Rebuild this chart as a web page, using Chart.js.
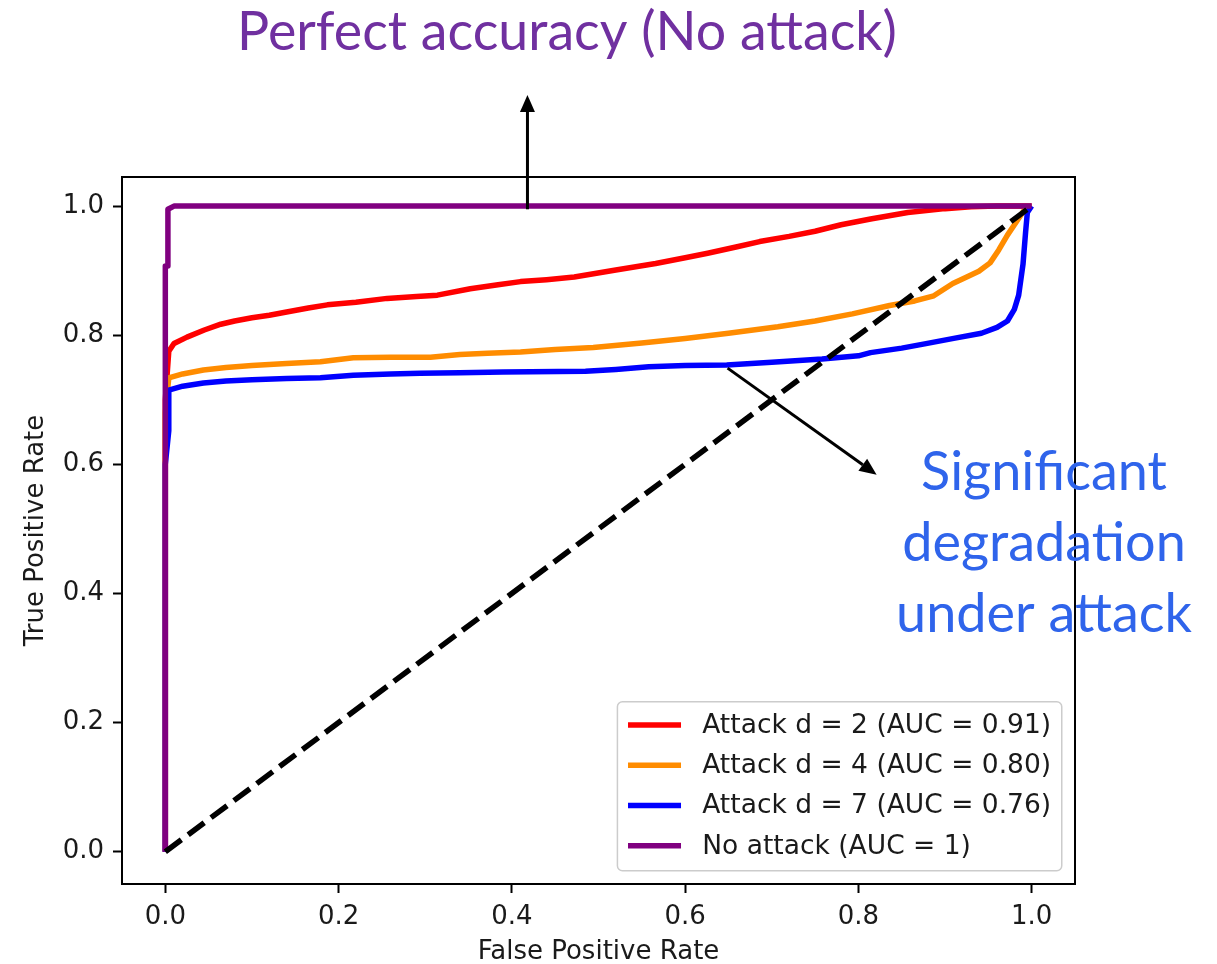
<!DOCTYPE html>
<html>
<head>
<meta charset="utf-8">
<script src="https://cdn.jsdelivr.net/npm/chart.js@4.4.1/dist/chart.umd.min.js"></script>
<style>
  html, body { margin: 0; padding: 0; background: #fff; }
  canvas { display: block; }
</style>
</head>
<body>
<canvas id="roc" width="1217" height="964"></canvas>
<script>
// ROC curves of the detector for several attack strengths

const X_TICKS = [0, 0.2, 0.4, 0.6, 0.8, 1.0];
const X_TICK_LABELS = ['0.0', '0.2', '0.4', '0.6', '0.8', '1.0'];
const Y_TICKS = [0, 0.2, 0.4, 0.6, 0.8, 1.0];
const Y_TICK_LABELS = ['0.0', '0.2', '0.4', '0.6', '0.8', '1.0'];

const SERIES_LABELS = [
  'Attack d = 2 (AUC = 0.91)',
  'Attack d = 4 (AUC = 0.80)',
  'Attack d = 7 (AUC = 0.76)',
  'No attack (AUC = 1)'
];

// Attack d = 2
const fprD2 = [0, 0, 0.004, 0.01, 0.025, 0.045, 0.064, 0.08, 0.10, 0.12, 0.14, 0.165, 0.187, 0.22, 0.256, 0.29, 0.314, 0.352, 0.384, 0.41, 0.44, 0.472, 0.52, 0.566, 0.60, 0.626, 0.66, 0.686, 0.72, 0.75, 0.78, 0.814, 0.857, 0.90, 0.93, 0.96, 1.0];
const tprD2 = [0, 0.70, 0.775, 0.787, 0.797, 0.808, 0.817, 0.822, 0.827, 0.831, 0.836, 0.842, 0.847, 0.851, 0.857, 0.860, 0.862, 0.872, 0.878, 0.883, 0.886, 0.890, 0.901, 0.911, 0.920, 0.927, 0.937, 0.945, 0.953, 0.961, 0.971, 0.980, 0.990, 0.996, 0.999, 1.0, 1.0];

// Attack d = 4
const fprD4 = [0, 0, 0.004, 0.02, 0.044, 0.07, 0.10, 0.14, 0.179, 0.217, 0.26, 0.306, 0.34, 0.372, 0.41, 0.45, 0.494, 0.55, 0.60, 0.65, 0.707, 0.75, 0.793, 0.836, 0.865, 0.887, 0.909, 0.925, 0.939, 0.952, 0.962, 0.972, 0.982, 0.992, 1.0];
const tprD4 = [0, 0.68, 0.734, 0.740, 0.746, 0.750, 0.753, 0.756, 0.759, 0.765, 0.766, 0.766, 0.770, 0.772, 0.774, 0.778, 0.781, 0.788, 0.795, 0.803, 0.813, 0.822, 0.833, 0.846, 0.853, 0.861, 0.880, 0.890, 0.899, 0.912, 0.932, 0.955, 0.975, 0.995, 1.0];

// Attack d = 7
const fprD7 = [0, 0, 0.004, 0.004, 0.02, 0.044, 0.07, 0.10, 0.14, 0.179, 0.217, 0.26, 0.294, 0.34, 0.39, 0.485, 0.52, 0.558, 0.60, 0.648, 0.70, 0.758, 0.80, 0.814, 0.85, 0.878, 0.91, 0.942, 0.96, 0.972, 0.98, 0.985, 0.99, 0.993, 0.995, 1.0];
const tprD7 = [0, 0.60, 0.652, 0.715, 0.721, 0.726, 0.729, 0.731, 0.733, 0.734, 0.738, 0.740, 0.741, 0.742, 0.743, 0.744, 0.747, 0.751, 0.753, 0.754, 0.758, 0.763, 0.768, 0.773, 0.780, 0.787, 0.795, 0.803, 0.812, 0.822, 0.840, 0.862, 0.910, 0.960, 0.990, 1.0];

// No attack
const fprClean = [0, 0, 0.003, 0.003, 0.01, 1.0];
const tprClean = [0, 0.907, 0.907, 0.995, 1.0, 1.0];

// Chance line
const fprChance = [0, 1];
const tprChance = [0, 1];

const TITLE_TEXT = 'Perfect accuracy (No attack)';
const NOTE_LINES = ['Significant', 'degradation', 'under attack'];

const toPoints = (xs, ys) => xs.map((x, i) => ({ x: x, y: ys[i] }));

const TICK_FONT = { family: 'DejaVu Sans', size: 26 };
const TEXT_COLOR = '#1a1a1a';
const LINE_W = 5.5;

// Outline around the plotting area
const framePlugin = {
  id: 'frame',
  afterDatasetsDraw(chart) {
    const { ctx, chartArea: a } = chart;
    ctx.save();
    ctx.strokeStyle = '#000';
    ctx.lineWidth = 2;
    ctx.strokeRect(a.left, a.top, a.right - a.left, a.bottom - a.top);
    ctx.restore();
  }
};

// Legend box in the lower-right corner of the plotting area
const legendBoxPlugin = {
  id: 'legendBox',
  afterDraw(chart) {
    const { ctx, chartArea: a } = chart;
    const fs = 26.5;
    const pad = 0.4 * fs, handle = 2.0 * fs, gap = 0.8 * fs, spacing = 0.5 * fs, rowH = 27;
    const axPad = 0.5 * fs;
    ctx.save();
    ctx.font = fs + 'px "DejaVu Sans"';
    const items = [0, 1, 2, 3].map(i => chart.data.datasets[i]);
    const textW = Math.max(...items.map(d => ctx.measureText(d.label).width));
    const w = pad + handle + gap + textW + pad;
    const h = 2 * pad + items.length * rowH + (items.length - 1) * spacing;
    const x0 = a.right - axPad - w;
    const y0 = a.bottom - axPad - h;
    ctx.beginPath();
    ctx.roundRect(x0, y0, w, h, 5);
    ctx.fillStyle = 'rgba(255,255,255,0.8)';
    ctx.fill();
    ctx.strokeStyle = '#cccccc';
    ctx.lineWidth = 1.5;
    ctx.stroke();
    items.forEach((d, i) => {
      const cy = y0 + pad + rowH / 2 + i * (rowH + spacing) - 1;
      ctx.beginPath();
      ctx.moveTo(x0 + pad, cy);
      ctx.lineTo(x0 + pad + handle, cy);
      ctx.strokeStyle = d.borderColor;
      ctx.lineWidth = LINE_W;
      ctx.stroke();
      ctx.fillStyle = TEXT_COLOR;
      ctx.textAlign = 'left';
      ctx.textBaseline = 'middle';
      ctx.fillText(d.label, x0 + pad + handle + gap, cy + 1);
    });
    ctx.restore();
  }
};

// Callout arrows and captions around the plot
const ARROWS = [
  { from: [0.418, 0.995], to: [0.418, 1.172] },
  { from: [0.649, 0.749], to: [0.821, 0.584] }
];

function fitFontSize(ctx, text, family, width) {
  ctx.font = '100px ' + family;
  return 100 * width / ctx.measureText(text).width;
}

const calloutPlugin = {
  id: 'callouts',
  afterDraw(chart) {
    const { ctx } = chart;
    const xs = chart.scales.x, ys = chart.scales.y;
    ctx.save();
    ARROWS.forEach(ar => {
      const x1 = xs.getPixelForValue(ar.from[0]), y1 = ys.getPixelForValue(ar.from[1]);
      const x2 = xs.getPixelForValue(ar.to[0]), y2 = ys.getPixelForValue(ar.to[1]);
      const ang = Math.atan2(y2 - y1, x2 - x1);
      const headL = 17, headW = 7.5;
      const bx = x2 - headL * Math.cos(ang), by = y2 - headL * Math.sin(ang);
      ctx.beginPath();
      ctx.moveTo(x1, y1);
      ctx.lineTo(bx, by);
      ctx.strokeStyle = '#000';
      ctx.lineWidth = 3;
      ctx.stroke();
      ctx.beginPath();
      ctx.moveTo(x2, y2);
      ctx.lineTo(bx + headW * Math.sin(ang), by - headW * Math.cos(ang));
      ctx.lineTo(bx - headW * Math.sin(ang), by + headW * Math.cos(ang));
      ctx.closePath();
      ctx.fillStyle = '#000';
      ctx.fill();
    });

    const fam = 'Lato, "Open Sans", sans-serif';
    ctx.textAlign = 'center';
    ctx.textBaseline = 'alphabetic';

    let size = fitFontSize(ctx, TITLE_TEXT, fam, 660);
    ctx.font = size + 'px ' + fam;
    ctx.fillStyle = '#7030A0';
    ctx.fillText(TITLE_TEXT, 567, 50);

    size = fitFontSize(ctx, NOTE_LINES[2], fam, 296);
    ctx.font = size + 'px ' + fam;
    ctx.fillStyle = '#2F64EB';
    NOTE_LINES.forEach((t, i) => ctx.fillText(t, 1044, 490 + i * 71));
    ctx.restore();
  }
};

const datasets = [
  { label: SERIES_LABELS[0], data: toPoints(fprD2, tprD2), borderColor: '#ff0000', order: 4 },
  { label: SERIES_LABELS[1], data: toPoints(fprD4, tprD4), borderColor: '#ff8c00', order: 3 },
  { label: SERIES_LABELS[2], data: toPoints(fprD7, tprD7), borderColor: '#0000ff', order: 2 },
  { label: SERIES_LABELS[3], data: toPoints(fprClean, tprClean), borderColor: '#800080', order: 1 },
  { label: 'chance', data: toPoints(fprChance, tprChance), borderColor: '#000000', borderDash: [20, 8.5], order: 0 }
].map(d => Object.assign({
  showLine: true,
  pointRadius: 0,
  pointHoverRadius: 0,
  borderWidth: LINE_W,
  borderJoinStyle: 'round',
  fill: false,
  tension: 0
}, d));

function axisOptions(ticks, labels, title, isX) {
  return {
    type: 'linear',
    min: -0.05,
    max: isX ? 1.05 : 1.045,
    afterBuildTicks: (scale) => { scale.ticks = ticks.map(v => ({ value: v })); },
    afterFit: (scale) => { if (isX) scale.height = 80; else scale.width = 122; },
    ticks: {
      autoSkip: false,
      maxRotation: 0,
      padding: 9,
      font: TICK_FONT,
      color: TEXT_COLOR,
      callback: (v, i) => labels[i]
    },
    grid: {
      drawOnChartArea: false,
      drawTicks: true,
      tickLength: 9,
      tickWidth: 2,
      tickColor: '#000'
    },
    border: { display: false },
    title: {
      display: true,
      text: title,
      font: TICK_FONT,
      color: TEXT_COLOR,
      padding: isX ? { top: 0, bottom: -4 } : { top: 21, bottom: 0 }
    }
  };
}

new Chart(document.getElementById('roc'), {
  type: 'scatter',
  data: { datasets: datasets },
  options: {
    responsive: false,
    animation: false,
    devicePixelRatio: 1,
    layout: { padding: { left: 0, right: 142, top: 177, bottom: 0 } },
    plugins: {
      legend: { display: false },
      tooltip: { enabled: false }
    },
    scales: {
      x: axisOptions(X_TICKS, X_TICK_LABELS, 'False Positive Rate', true),
      y: axisOptions(Y_TICKS, Y_TICK_LABELS, 'True Positive Rate', false)
    }
  },
  plugins: [framePlugin, legendBoxPlugin, calloutPlugin]
});
</script>
</body>
</html>
